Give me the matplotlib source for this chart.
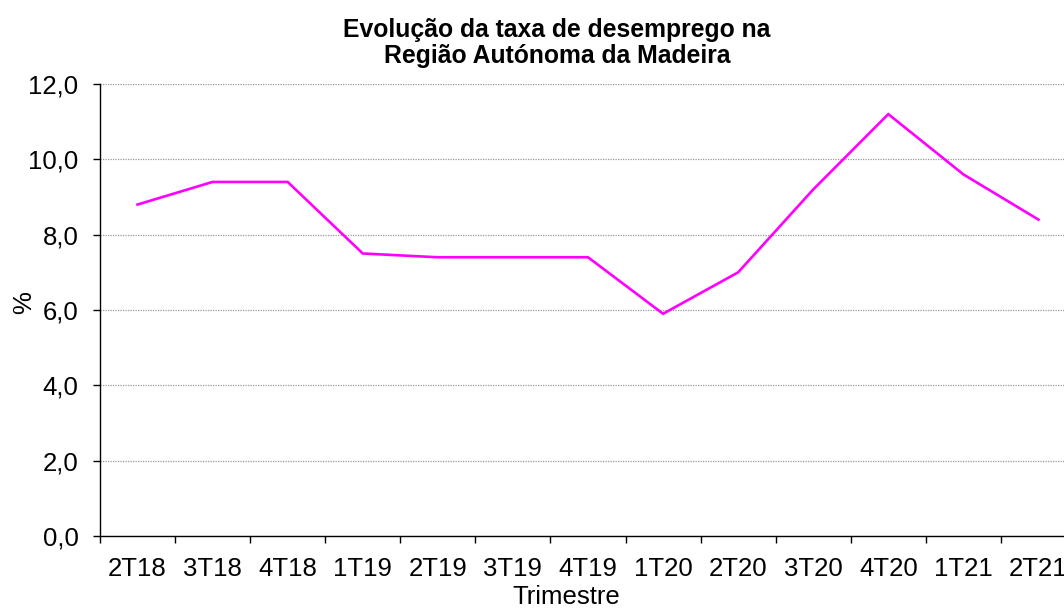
# Evolução da taxa de desemprego - RAM

import numpy as np
import matplotlib.pyplot as plt
from matplotlib.ticker import FixedLocator, FuncFormatter

plt.rcParams['font.family'] = ['Liberation Sans', 'DejaVu Sans']

# data
trimestres = ['2T18', '3T18', '4T18', '1T19', '2T19', '3T19', '4T19',
              '1T20', '2T20', '3T20', '4T20', '1T21', '2T21']
taxa = [8.8, 9.4, 9.4, 7.5, 7.4, 7.4, 7.4, 5.9, 7.0, 9.2, 11.2, 9.6, 8.4]
y_ticks = [0, 2, 4, 6, 8, 10, 12]

fig = plt.figure(figsize=(10.64, 6.08), dpi=100)
# the original plot area runs past the right edge of the picture
ax = fig.add_axes([100 / 1064, 1 - 536 / 608, 976 / 1064, 452 / 608])

x = np.arange(len(trimestres))
ax.plot(x, taxa, color='#FF00FF', linewidth=1.9, solid_joinstyle='miter')

ax.set_xlim(-0.5, len(trimestres) - 0.5)
ax.set_ylim(0, 12)

ax.set_xticks(x)
ax.set_xticklabels(trimestres, fontsize=18.5)
ax.xaxis.set_minor_locator(FixedLocator(np.arange(-0.5, len(trimestres), 1)))
ax.tick_params(axis='x', which='major', length=0, pad=15)
ax.tick_params(axis='x', which='minor', length=5, width=1, direction='out')

ax.set_yticks(y_ticks)
ax.yaxis.set_major_formatter(FuncFormatter(lambda v, p: f'{v:.1f}'.replace('.', ',')))
ax.tick_params(axis='y', length=5, width=1, labelsize=18.5, pad=10.5)

ax.grid(axis='y', linestyle=(0, (1, 1)), color='#999999', linewidth=0.9)
ax.set_axisbelow(True)

for s in ['top', 'right']:
    ax.spines[s].set_visible(False)
for s in ['left', 'bottom']:
    ax.spines[s].set_linewidth(1)
    ax.spines[s].set_color('black')

fig.text(557 / 1064, 1 - 43 / 608, 'Evolução da taxa de desemprego na\nRegião Autónoma da Madeira',
         ha='center', va='center', fontsize=17.8, fontweight='bold', linespacing=1.1)
fig.text(566 / 1064, 1 - 597 / 608, 'Trimestre', ha='center', va='center', fontsize=18.5)
fig.text(24 / 1064, 1 - 303 / 608, '%', ha='center', va='center', fontsize=18.5, rotation=90)

fig.savefig('out.png', dpi=100)
